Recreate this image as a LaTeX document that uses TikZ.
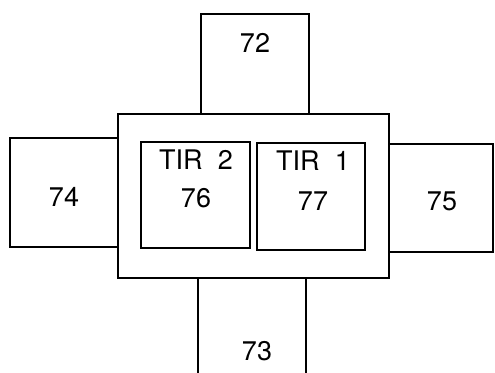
\documentclass[tikz,border=0pt]{standalone}
\usepackage{fontspec}
\setmainfont{TeX Gyre Heros}
\usetikzlibrary{positioning}
\tikzset{
  box/.style   = {draw, line width=2.5pt, fill=white, inner sep=0pt},
  lbl/.style   = {font=\fontsize{27}{30}\selectfont, inner sep=0pt, anchor=base}
}
\begin{document}
\begin{tikzpicture}[x=1pt, y=-1pt]
  \useasboundingbox (0,0) rectangle (495,372);

  % outer boxes round the housing
  \node[box, minimum width=108pt, minimum height=100pt] (b72) at (255,64)  {};
  \node[box, minimum width=108pt, minimum height=122pt] (b73) at (252,339) {};
  \node[box, minimum width=108pt, minimum height=109pt] (b74) at (64,192.5) {};
  \node[box, minimum width=104pt, minimum height=108pt] (b75) at (441,198) {};

  % housing and the two inner cells
  \node[box, minimum width=271pt, minimum height=164pt] (house) at (253.5,196) {};
  \node[box, minimum width=109pt, minimum height=106pt] (tir2) at (195.5,195) {};
  \node[box, minimum width=108pt, minimum height=107pt] (tir1) at (311,196.5) {};

  % texts
  \node[lbl] (l72) at (255,52)  {72};
  \node[lbl] (l73) at (257,360) {73};
  \node[lbl] (l74) at (64,206)  {74};
  \node[lbl] (l75) at (442,210) {75};
  \node[lbl] (h2)  at (196,169) {TIR\ \ 2};
  \node[lbl] (l76) at (196,207) {76};
  \node[lbl] (h1)  at (313,170) {TIR\ \ 1};
  \node[lbl] (l77) at (313,210) {77};
\end{tikzpicture}
\end{document}
